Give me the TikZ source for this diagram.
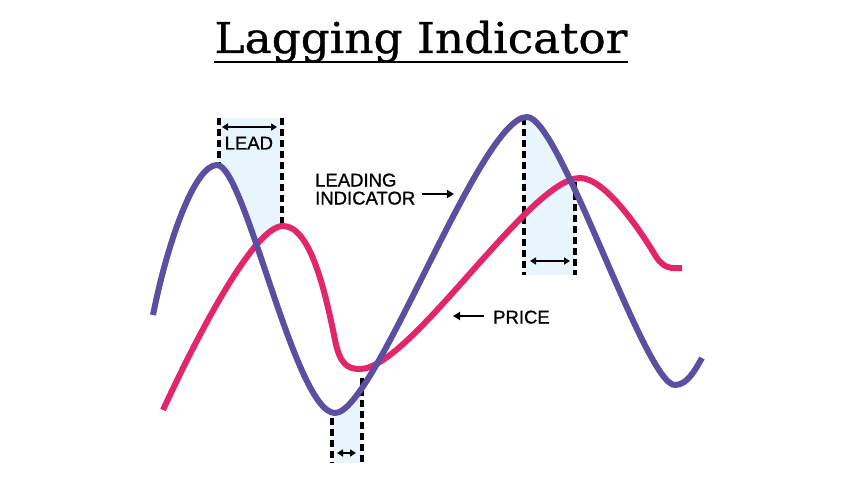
\documentclass[tikz,border=0pt]{standalone}
\usepackage{fontspec}
\setmainfont{DejaVu Serif}
\newfontfamily\labfont[FakeBold=0.9]{Liberation Sans}
\newfontfamily\titlefont[FakeBold=0.8]{DejaVu Serif}
\usetikzlibrary{arrows.meta}
\definecolor{leadc}{HTML}{5A4FA1}
\definecolor{pricec}{HTML}{E2266A}
\definecolor{shadec}{HTML}{E8F5FD}
\tikzset{
  curveline/.style={line width=6pt, line join=round},
  dashline/.style={line width=3.5pt, dash pattern=on 7pt off 4pt, black},
  arr/.style={line width=2pt, -{Triangle[length=7pt,width=8pt]}},
  darr/.style={line width=2pt, {Triangle[length=6pt,width=7pt]}-{Triangle[length=6pt,width=7pt]}},
  lab/.style={font=\labfont\fontsize{18.5}{18.5}\selectfont, inner sep=0pt},
}
\def\leadpath{(153,315) .. controls (168,240) and (195,165) .. (217,165)
  .. controls (245,165) and (295,413) .. (335,413)
  .. controls (375,413) and (480,117) .. (527,117)
  .. controls (560,117) and (645,385) .. (675,385)
  .. controls (688,385) and (696,368) .. (702,358)}
\def\pricepath{(163,410) .. controls (200,330) and (255,226) .. (283,226)
  .. controls (310,226) and (325,290) .. (335,340)
  .. controls (340,365) and (348,369) .. (360,369)
  .. controls (410,369) and (530,178) .. (580,178)
  .. controls (605,178) and (640,230) .. (655,255)
  .. controls (664,270) and (672,268) .. (682,268)}
\begin{document}
\begin{tikzpicture}[x=1pt,y=-1pt]
\useasboundingbox (0,0) rectangle (856,481);
\fill[white] (0,0) rectangle (856,481);
% shading regions
\begin{scope}
  \clip \leadpath -- (702,0) -- (153,0) -- cycle;
  \clip \pricepath -- (682,0) -- (163,0) -- cycle;
  \fill[shadec] (219,118) rectangle (282,330);
\end{scope}
\begin{scope}
  \clip \leadpath -- (702,481) -- (153,481) -- cycle;
  \fill[shadec] (332,370) rectangle (362,463);
  \fill[shadec] (524,100) rectangle (575,275);
\end{scope}
% dashed lines
\coordinate (d1a) at (219,118); \coordinate (d1b) at (219,163);
\coordinate (d2a) at (282,118); \coordinate (d2b) at (282,225);
\coordinate (d3a) at (332,418); \coordinate (d3b) at (332,463);
\coordinate (d4a) at (362,378); \coordinate (d4b) at (362,463);
\coordinate (d5a) at (524,118); \coordinate (d5b) at (524,275);
\coordinate (d6a) at (575,182); \coordinate (d6b) at (575,275);
\draw[dashline] (d1a) -- (d1b);
\draw[dashline] (d2a) -- (d2b);
\draw[dashline] (d3a) -- (d3b);
\draw[dashline] (d4a) -- (d4b);
\draw[dashline] (d5a) -- (d5b);
\draw[dashline] (d6a) -- (d6b);
% curves
\draw[curveline, pricec] \pricepath;
\draw[curveline, leadc] \leadpath;
% lead arrows
\coordinate (a1l) at (222,127); \coordinate (a1r) at (277,127);
\coordinate (a2l) at (337,453); \coordinate (a2r) at (356,453);
\coordinate (a3l) at (530,261); \coordinate (a3r) at (570,261);
\draw[darr] (a1l) -- (a1r);
\draw[darr] (a2l) -- (a2r);
\draw[darr] (a3l) -- (a3r);
% labels
\node[lab, anchor=base west] (leadlab) at (224.5,149.5) {LEAD};
\node[lab, anchor=base west] (lead1) at (315,186.5) {LEADING};
\node[lab, anchor=base west] (lead2) at (315,204.5) {INDICATOR};
\node[lab, anchor=base west] (pricelab) at (493,323.5) {PRICE};
\coordinate (la1) at (422,194); \coordinate (la2) at (454,194);
\coordinate (pa1) at (484,316); \coordinate (pa2) at (453,316);
\draw[arr] (la1) -- (la2);
\draw[arr] (pa1) -- (pa2);
% title
\node[anchor=base, inner sep=0pt, font=\titlefont\fontsize{42.5}{42.5}\selectfont] (title) at (421,53) {\scalebox{1.068}[1]{Lagging Indicator}};
\draw[line width=2pt] ([yshift=-9pt]title.base west) -- ([yshift=-9pt]title.base east);
\end{tikzpicture}
\end{document}
